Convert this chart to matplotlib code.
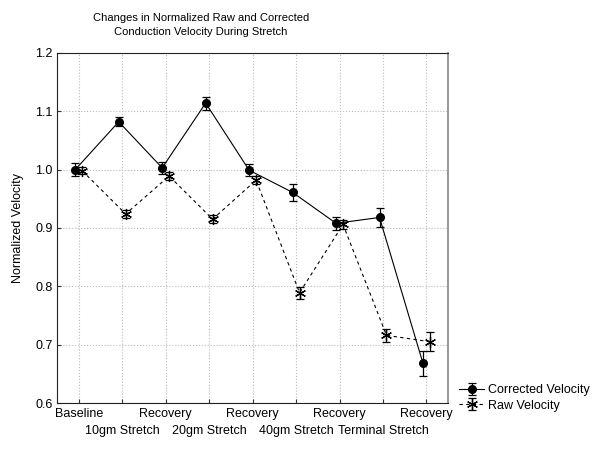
import numpy as np
import matplotlib
matplotlib.use("Agg")
import matplotlib.pyplot as plt

plt.rcParams['font.family'] = ['Liberation Sans', 'DejaVu Sans']

stages = ['Baseline', '10gm Stretch', 'Recovery', '20gm Stretch', 'Recovery',
          '40gm Stretch', 'Recovery', 'Terminal Stretch', 'Recovery']
corrected = [1.000, 1.082, 1.003, 1.114, 0.999, 0.961, 0.908, 0.918, 0.668]
corrected_err = [0.011, 0.008, 0.010, 0.011, 0.010, 0.015, 0.011, 0.016, 0.022]
raw = [0.998, 0.924, 0.989, 0.915, 0.982, 0.789, 0.906, 0.716, 0.705]
raw_err = [0.006, 0.007, 0.007, 0.007, 0.007, 0.010, 0.008, 0.011, 0.016]

x = np.arange(len(stages))

fig = plt.figure(figsize=(6, 4.5), dpi=100)
ax = fig.add_axes([0.095, 0.1044, 0.652, 0.778])

ax.errorbar(x - 0.08, corrected, yerr=corrected_err, color='black', linestyle='-',
            linewidth=0.8, marker='o', markersize=5.5, capsize=3, elinewidth=0.9,
            capthick=0.9, label='Corrected Velocity')
ax.errorbar(x + 0.08, raw, yerr=raw_err, color='black', linestyle='--',
            dashes=(3, 3), linewidth=0.8, marker=(6, 2, 0), markersize=8,
            markeredgewidth=0.9, capsize=3, elinewidth=0.9, capthick=0.9,
            label='Raw Velocity')

ax.set_xlim(-0.5, 8.5)
ax.set_ylim(0.6, 1.2)
ax.set_yticks([0.6, 0.7, 0.8, 0.9, 1.0, 1.1, 1.2])
ax.set_yticklabels(['0.6', '0.7', '0.8', '0.9', '1.0', '1.1', '1.2'])
ax.set_xticks(x)
ax.set_xticklabels(stages)
ax.tick_params(direction='in', length=3, labelsize=9, colors='#333333',
               labelcolor='black', pad=3)
# stagger the stage names on two rows
for i, tick in enumerate(ax.xaxis.get_major_ticks()):
    tick.set_pad(3.5 if i % 2 == 0 else 16)
ax.grid(True, linestyle=':', color='#bbbbbb', linewidth=0.8)
for side in ['left', 'bottom', 'top']:
    ax.spines[side].set_color('#222222')
ax.spines['right'].set_color('#888888')
ax.spines['right'].set_linewidth(1.2)

ax.set_ylabel('Normalized Velocity', fontsize=9, labelpad=8)

fig.text(201 / 600, 1 - 25 / 450,
         'Changes in Normalized Raw and Corrected\nConduction Velocity During Stretch',
         ha='center', va='center', fontsize=8, linespacing=1.45)

handles, labels = ax.get_legend_handles_labels()
fig.legend(handles, labels, loc='center left', bbox_to_anchor=(453 / 600, 1 - 398 / 450),
           frameon=False, fontsize=9, handlelength=2.0, handletextpad=0.3,
           labelspacing=0.25, borderpad=0)

fig.savefig('out.png', dpi=100)
